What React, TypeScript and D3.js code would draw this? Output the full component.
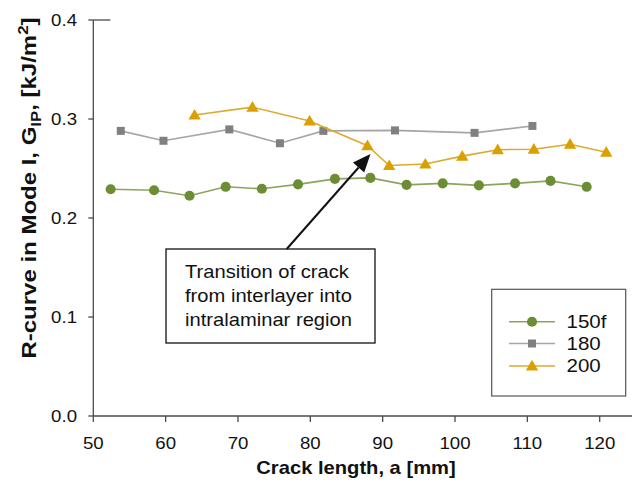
import React from "react";
import * as d3 from "d3";

const xTicks = [50, 60, 70, 80, 90, 100, 110, 120];
const yTicks = [0, 0.1, 0.2, 0.3, 0.4];

const seriesNames = ["150f", "180", "200"];

const x150f = [52.4, 58.4, 63.3, 68.3, 73.3, 78.3, 83.4, 88.3, 93.3, 98.3, 103.3, 108.3, 113.2, 118.2];
const y150f = [0.229, 0.228, 0.2225, 0.2315, 0.2295, 0.234, 0.2395, 0.2405, 0.2335, 0.235, 0.233, 0.235, 0.2375, 0.2315];

const x180 = [53.8, 59.7, 68.8, 75.8, 81.8, 91.7, 102.7, 110.7];
const y180 = [0.288, 0.278, 0.2895, 0.2755, 0.288, 0.2885, 0.286, 0.293];

const x200 = [64.0, 72.0, 79.9, 87.9, 90.9, 95.9, 101.0, 105.9, 110.9, 115.9, 120.9];
const y200 = [0.304, 0.312, 0.298, 0.273, 0.253, 0.2545, 0.2625, 0.269, 0.2695, 0.2745, 0.2665];

const annotationLines = ["Transition of crack", "from interlayer into", "intralaminar region"];

const FONT = "'Liberation Sans', Arial, Helvetica, sans-serif";
const SX = 1.13;

export default function App() {
  const W = 633, H = 484;
  const x = d3.scaleLinear().domain([50, 120]).range([93.3, 599.7]);
  const y = d3.scaleLinear().domain([0, 0.4]).range([416, 20]);
  const axisColor = "#4a4a4a";

  const series = [
    { name: seriesNames[0], xs: x150f, ys: y150f, line: "#8da45f", fill: "#6b8e35", shape: d3.symbolCircle, size: 80 },
    { name: seriesNames[1], xs: x180, ys: y180, line: "#a6a6a6", fill: "#808080", shape: d3.symbolSquare, size: 64 },
    { name: seriesNames[2], xs: x200, ys: y200, line: "#dbab2e", fill: "#d9a000", shape: d3.symbolTriangle, size: 66 },
  ];

  const lineGen = d3.line<[number, number]>().x(d => x(d[0])).y(d => y(d[1]));

  const legendRows = [321.7, 343.5, 366];
  const tip = { x: 370.5, y: 154 };
  const start = { x: 286.7, y: 249 };
  const ang = Math.atan2(tip.y - start.y, tip.x - start.x);
  const headLen = 18, headW = 7.5;
  const bx = tip.x - headLen * Math.cos(ang), by = tip.y - headLen * Math.sin(ang);
  const p1 = [bx + headW * Math.sin(ang), by - headW * Math.cos(ang)];
  const p2 = [bx - headW * Math.sin(ang), by + headW * Math.cos(ang)];

  return (
    <svg width={W} height={H} style={{ position: "absolute", left: 0, top: 0, background: "#fff" }} fontFamily={FONT}>
      <rect width={W} height={H} fill="#fff" />
      {/* axes */}
      <line x1={x(50)} x2={632} y1={y(0)} y2={y(0)} stroke={axisColor} strokeWidth={1.3} />
      <line x1={x(50)} x2={x(50)} y1={y(0.4)} y2={y(0)} stroke={axisColor} strokeWidth={1.3} />
      <line x1={x(50)} x2={x(50) + 17} y1={y(0.4)} y2={y(0.4)} stroke={axisColor} strokeWidth={1.3} />
      {xTicks.map(t => (
        <g key={"xt" + t}>
          <line x1={x(t)} x2={x(t)} y1={y(0)} y2={y(0) + 6} stroke={axisColor} strokeWidth={1.3} />
          <text transform={`translate(${x(t)},449) scale(${SX},1)`} textAnchor="middle" fontSize={16.5} fill="#111">{t}</text>
        </g>
      ))}
      {yTicks.map(t => (
        <g key={"yt" + t}>
          <line x1={x(50) - 5} x2={x(50)} y1={y(t)} y2={y(t)} stroke={axisColor} strokeWidth={1.3} />
          <text transform={`translate(77,${y(t)}) scale(${SX},1)`} dy="0.36em" textAnchor="end" fontSize={16.5} fill="#111">{t.toFixed(1)}</text>
        </g>
      ))}
      {/* axis titles */}
      <text transform={`translate(356,474) scale(1.12,1)`} textAnchor="middle" fontSize={18} fontWeight="bold" fill="#111">Crack length, a [mm]</text>
      <text transform="translate(36,188) rotate(-90) scale(1.2,1)" textAnchor="middle" fontSize={20} fontWeight="bold" fill="#111">
        R-curve in Mode I, G<tspan fontSize={14} dy={5}>IP</tspan><tspan dy={-5}>, [kJ/m</tspan><tspan fontSize={14} dy={-8}>2</tspan><tspan dy={8}>]</tspan>
      </text>
      {/* series */}
      {series.map(s => {
        const pts: [number, number][] = s.xs.map((v, i) => [v, s.ys[i]]);
        const sym = d3.symbol().type(s.shape).size(s.size)();
        return (
          <g key={s.name}>
            <path d={lineGen(pts) || ""} fill="none" stroke={s.line} strokeWidth={1.6} />
            {pts.map((p, i) => (
              <path key={i} d={sym || ""} transform={`translate(${x(p[0])},${y(p[1]) + (s.shape === d3.symbolTriangle ? 1 : 0)})`} fill={s.fill} />
            ))}
          </g>
        );
      })}
      {/* annotation */}
      <rect x={166} y={249} width={209} height={94} fill="#fff" stroke="#111" strokeWidth={1.3} />
      {annotationLines.map((l, i) => (
        <text key={i} transform={`translate(185,${277.5 + i * 24}) scale(1.12,1)`} fontSize={18} fill="#111">{l}</text>
      ))}
      <line x1={start.x} y1={start.y} x2={bx} y2={by} stroke="#111" strokeWidth={2} />
      <path d={`M${tip.x},${tip.y}L${p1[0]},${p1[1]}L${p2[0]},${p2[1]}Z`} fill="#111" />
      {/* legend */}
      <rect x={491.7} y={289.3} width={134} height={106.7} fill="#fff" stroke="#555" strokeWidth={1.2} />
      {series.map((s, i) => {
        const sym = d3.symbol().type(s.shape).size(s.size)();
        return (
          <g key={"lg" + s.name}>
            <line x1={509} x2={555} y1={legendRows[i]} y2={legendRows[i]} stroke={s.line} strokeWidth={1.6} />
            <path d={sym || ""} transform={`translate(532,${legendRows[i] + (s.shape === d3.symbolTriangle ? 1 : 0)})`} fill={s.fill} />
            <text transform={`translate(566.5,${legendRows[i]}) scale(1.14,1)`} dy="0.36em" fontSize={18} fill="#111">{s.name}</text>
          </g>
        );
      })}
    </svg>
  );
}
